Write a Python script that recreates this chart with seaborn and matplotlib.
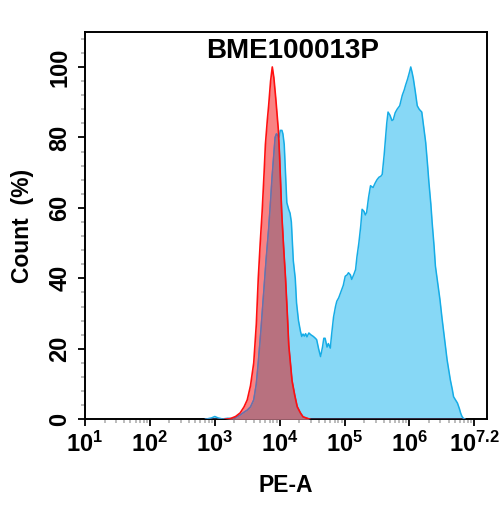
import numpy as np
import seaborn as sns
import matplotlib.pyplot as plt
from matplotlib.ticker import FixedLocator, FixedFormatter, LogLocator, MultipleLocator, NullFormatter

# Isotype / negative control (red), log10 of PE-A and percent of max
red_log = [3.15, 3.24, 3.32, 3.39, 3.45, 3.50, 3.55, 3.60, 3.64, 3.67, 3.70, 3.73, 3.76, 3.78,
           3.81, 3.83, 3.86, 3.886, 3.91, 3.94, 3.98, 4.00, 4.03, 4.06, 4.09, 4.12, 4.14, 4.17,
           4.19, 4.23, 4.27, 4.32, 4.36, 4.42, 4.47]
red_val = [0, 0.2, 0.8, 1.8, 3.5, 5.5, 9.5, 16, 27, 40, 50, 59, 70, 78,
           85, 89, 96, 100, 97, 91, 82, 74, 59, 49, 40, 29, 21, 15,
           11, 7, 3.6, 1.8, 0.7, 0.3, 0]

# Stained sample (blue)
blue_log = [2.85, 2.95, 3.00, 3.05, 3.12, 3.20, 3.27, 3.33, 3.39, 3.45, 3.50, 3.55, 3.60, 3.64,
            3.67, 3.71, 3.75, 3.79, 3.83, 3.86, 3.88, 3.91, 3.93, 3.95, 3.97, 3.99, 4.01, 4.035,
            4.05, 4.07, 4.09, 4.11, 4.14, 4.16, 4.18, 4.21, 4.24, 4.26, 4.29, 4.32, 4.34, 4.36,
            4.38, 4.40, 4.42, 4.45, 4.48, 4.52, 4.55, 4.57, 4.60, 4.63, 4.66, 4.68, 4.70, 4.73,
            4.75, 4.78, 4.80, 4.83, 4.86, 4.88, 4.91, 4.93, 4.96, 4.98, 5.01, 5.04, 5.06, 5.09,
            5.11, 5.14, 5.17, 5.19, 5.22, 5.25, 5.27, 5.30, 5.32, 5.34, 5.37, 5.40, 5.42, 5.44,
            5.47, 5.50, 5.53, 5.56, 5.58, 5.61, 5.63, 5.65, 5.67, 5.70, 5.73, 5.75, 5.78, 5.81,
            5.85, 5.87, 5.89, 5.92, 5.94, 5.97, 6.00, 6.02, 6.04, 6.06, 6.09, 6.12, 6.15, 6.19,
            6.22, 6.25, 6.28, 6.30, 6.33, 6.35, 6.38, 6.40, 6.44, 6.47, 6.50, 6.53, 6.56, 6.58,
            6.61, 6.63, 6.66, 6.68, 6.71, 6.74, 6.77, 6.79, 6.81, 6.83, 6.86]
blue_val = [0, 0.4, 0.8, 0.4, 0.1, 0.3, 0.2, 0.6, 1.2, 2.0, 2.6, 3.5, 5.5, 10,
            16, 25, 35, 45, 54, 62, 68, 75, 80, 81, 80.5, 80, 82, 82,
            81, 78, 70, 61.5, 59.5, 58.5, 56, 45, 40, 33, 28, 25, 23.5, 24.2,
            23.6, 24.3, 23.4, 24.5, 24, 23.5, 23, 22.6, 20, 17.8, 20.5, 23, 23, 20.5,
            21.5, 20.2, 24, 29, 32, 33.5, 34.5, 35.5, 37, 38, 40.6, 41, 41.6, 41,
            39.7, 41, 42.5, 46, 50, 55, 59.6, 59, 58, 58.7, 63, 66.3, 66, 65.8,
            67, 68, 68.7, 69, 69.5, 75, 79.6, 84, 87.2, 86.3, 84.8, 85, 87, 88,
            89, 90.5, 92, 93.5, 94.8, 96.5, 98.5, 100, 98.5, 96.7, 93, 89, 88, 87.2,
            83, 78.6, 72, 67.2, 61, 55.8, 49, 43.5, 38, 34, 29, 24.5, 20, 16.9,
            13.5, 11.2, 8.5, 6.4, 5.5, 4.6, 3, 1.7, 0.8, 0.3, 0]

xtick_pow = [1, 2, 3, 4, 5, 6, 7]
xtick_labels = [r'$\mathbf{10^{1}}$', r'$\mathbf{10^{2}}$', r'$\mathbf{10^{3}}$', r'$\mathbf{10^{4}}$',
                r'$\mathbf{10^{5}}$', r'$\mathbf{10^{6}}$', r'$\mathbf{10^{7.2}}$']

sns.set_style('ticks')
plt.rcParams['font.family'] = ['Liberation Sans', 'DejaVu Sans']
plt.rcParams['font.weight'] = 'bold'
plt.rcParams['text.color'] = 'black'
plt.rcParams['axes.labelcolor'] = 'black'
plt.rcParams['xtick.labelcolor'] = 'black'
plt.rcParams['ytick.labelcolor'] = 'black'
plt.rcParams['mathtext.fontset'] = 'custom'
plt.rcParams['mathtext.bf'] = 'Liberation Sans:bold'
plt.rcParams['mathtext.rm'] = 'Liberation Sans:bold'

fig = plt.figure(figsize=(5.04, 5.05), dpi=100)
ax = fig.add_axes([0.1687, 0.1697, 0.7982, 0.7675])

rx = 10 ** np.array(red_log)
bx = 10 ** np.array(blue_log)

# overlap region on a common grid
grid = np.union1d(red_log, blue_log)
r_on = np.interp(grid, red_log, red_val, left=0, right=0)
b_on = np.interp(grid, blue_log, blue_val, left=0, right=0)
ov = np.minimum(r_on, b_on)
gx = 10 ** grid

ax.fill_between(rx, red_val, color='#f98383', lw=0, zorder=1)
ax.fill_between(bx, blue_val, color='#87d8f6', lw=0, zorder=2)
sns.lineplot(x=bx, y=blue_val, ax=ax, color='#15ace6', lw=1.1, zorder=3, sort=False)
ax.fill_between(gx, ov, color='#b8717f', lw=0, zorder=4)
sns.lineplot(x=gx, y=ov, ax=ax, color='#7b68a0', lw=1.0, zorder=5, sort=False)
sns.lineplot(x=rx, y=red_val, ax=ax, color='#ff1010', lw=1.2, zorder=6, sort=False)

ax.set_xscale('log')
ax.set_xlim(10, 10 ** 7.2)
ax.set_ylim(0, 110)

ax.xaxis.set_major_locator(FixedLocator([10.0 ** p for p in xtick_pow]))
ax.xaxis.set_major_formatter(FixedFormatter(xtick_labels))
ax.xaxis.set_minor_locator(LogLocator(base=10, subs=np.arange(2, 10), numticks=20))
ax.xaxis.set_minor_formatter(NullFormatter())
ax.yaxis.set_major_locator(MultipleLocator(20))
ax.yaxis.set_minor_locator(MultipleLocator(4))

ax.tick_params(axis='both', which='major', length=5, width=1.3, color='black', labelsize=17)
ax.tick_params(axis='both', which='minor', length=3, width=1.2, color='#b0b0b0')
ax.tick_params(axis='x', which='major', pad=4)
ax.tick_params(axis='y', which='major', pad=5)
for lab in ax.get_yticklabels():
    lab.set_rotation(90)
    lab.set_va('center')

for s in ax.spines.values():
    s.set_linewidth(1.4)
    s.set_color('black')

ax.text(0.517, 0.932, 'BME100013P', transform=ax.transAxes, ha='center', va='baseline',
        fontsize=20, fontweight='bold')
ax.set_xlabel('PE-A', fontsize=16.5, fontweight='bold', labelpad=12)
ax.set_ylabel('Count  (%)', fontsize=16.5, fontweight='bold', labelpad=10)

fig.savefig('out.png', dpi=100)
